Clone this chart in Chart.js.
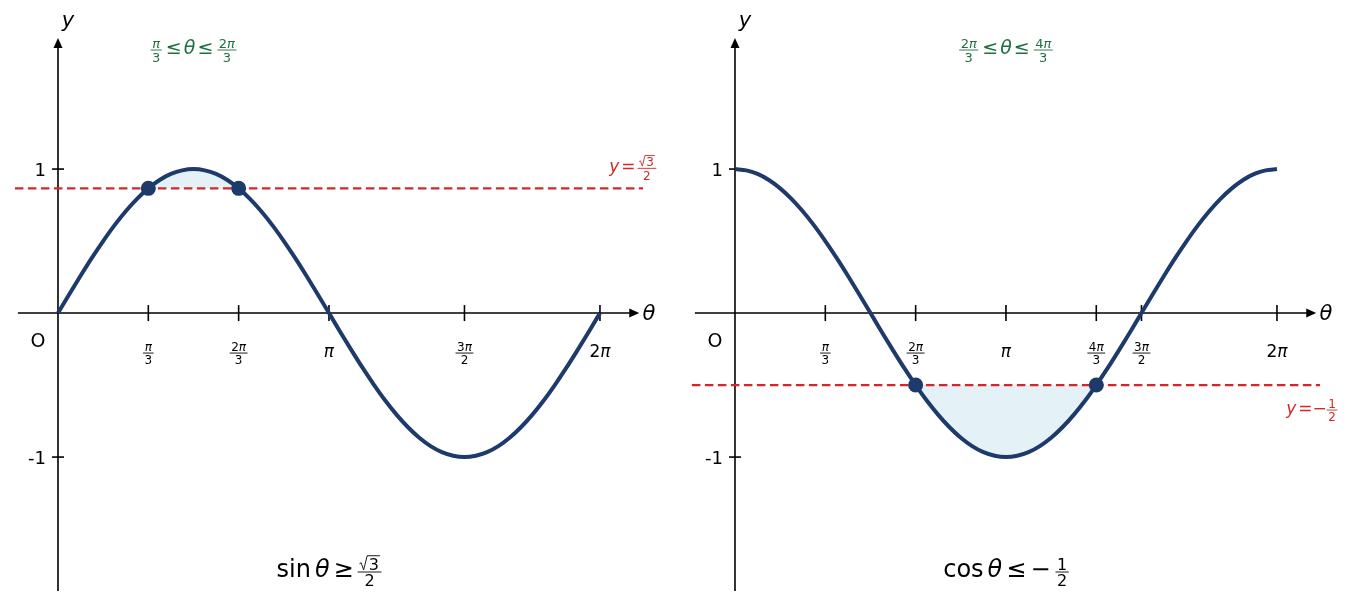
<!DOCTYPE html>
<html>
<head>
<meta charset="utf-8">
<title>sin / cos inequalities</title>
<script src="https://cdn.jsdelivr.net/npm/chart.js@4.4.0/dist/chart.umd.min.js"></script>
<style>
  html, body { margin: 0; padding: 0; background: #fff; overflow: hidden; }
  #wrap { position: relative; width: 1355px; height: 611px; }
  .panel { position: absolute; top: 0; width: 678px; height: 611px; }
</style>
</head>
<body>
<div id="wrap">
  <div class="panel" style="left:0"><canvas id="sinChart" width="678" height="611"></canvas></div>
  <div class="panel" style="left:677px"><canvas id="cosChart" width="678" height="611"></canvas></div>
</div>
<script>
// theta is stored in units of pi (steps of pi/24)
const thetaPi = [0, 1/24, 2/24, 3/24, 4/24, 5/24, 6/24, 7/24, 8/24, 9/24, 10/24, 11/24, 12/24,
  13/24, 14/24, 15/24, 16/24, 17/24, 18/24, 19/24, 20/24, 21/24, 22/24, 23/24, 1,
  25/24, 26/24, 27/24, 28/24, 29/24, 30/24, 31/24, 32/24, 33/24, 34/24, 35/24, 36/24,
  37/24, 38/24, 39/24, 40/24, 41/24, 42/24, 43/24, 44/24, 45/24, 46/24, 47/24, 2];
const sinValues = [0, 0.131, 0.259, 0.383, 0.5, 0.609, 0.707, 0.793, 0.866, 0.924, 0.966, 0.991, 1,
  0.991, 0.966, 0.924, 0.866, 0.793, 0.707, 0.609, 0.5, 0.383, 0.259, 0.131, 0,
  -0.131, -0.259, -0.383, -0.5, -0.609, -0.707, -0.793, -0.866, -0.924, -0.966, -0.991, -1,
  -0.991, -0.966, -0.924, -0.866, -0.793, -0.707, -0.609, -0.5, -0.383, -0.259, -0.131, 0];
const cosValues = [1, 0.991, 0.966, 0.924, 0.866, 0.793, 0.707, 0.609, 0.5, 0.383, 0.259, 0.131, 0,
  -0.131, -0.259, -0.383, -0.5, -0.609, -0.707, -0.793, -0.866, -0.924, -0.966, -0.991, -1,
  -0.991, -0.966, -0.924, -0.866, -0.793, -0.707, -0.609, -0.5, -0.383, -0.259, -0.131, 0,
  0.131, 0.259, 0.383, 0.5, 0.609, 0.707, 0.793, 0.866, 0.924, 0.966, 0.991, 1];

const sinLevel = 0.866;
const cosLevel = -0.5;
const sinCross = [1/3, 2/3];
const cosCross = [2/3, 4/3];
const sinShade = [8, 16];    // index range of thetaPi
const cosShade = [16, 32];
const sinTicks = [1/3, 2/3, 1, 3/2, 2];
const cosTicks = [1/3, 2/3, 1, 4/3, 3/2, 2];
const yTicks = [1, -1];
const yTickLabels = ['1', '-1'];

const NAVY = '#1d3a6b';
const RED = '#d62728';
const GREEN = '#1e7040';
const SHADE = '#e4f2f8';
const FONT = '"DejaVu Sans"';

// scale windows (pi units / y units)
const X_MIN = -0.214, X_MAX = 2.288;
const Y_MIN = -2.069, Y_MAX = 2.174;

// --- tiny math text helpers ---
const T = (t, size, it) => ({ t, size, it: !!it });
const G = w => ({ gap: w });
const F = (num, den, size) => ({ frac: [num, den], size });
const R = (t, size) => ({ sqrt: t, size });

function mathFont(size, italic) {
  return (italic ? 'italic ' : '') + size + 'px ' + FONT;
}

function itemWidth(ctx, it) {
  if (it.gap !== undefined) return it.gap;
  if (it.frac) return Math.max(rowWidth(ctx, it.frac[0]), rowWidth(ctx, it.frac[1])) + 3;
  if (it.sqrt) {
    ctx.font = mathFont(it.size, false);
    return 0.6 * it.size + ctx.measureText(it.sqrt).width + 1;
  }
  ctx.font = mathFont(it.size, it.it);
  return ctx.measureText(it.t).width;
}

function rowWidth(ctx, row) {
  return row.reduce((s, it) => s + itemWidth(ctx, it), 0);
}

// axis = vertical math axis (fraction bar height)
function drawRow(ctx, row, x, axis, color) {
  ctx.fillStyle = color;
  ctx.strokeStyle = color;
  ctx.textBaseline = 'alphabetic';
  ctx.textAlign = 'left';
  for (const it of row) {
    const w = itemWidth(ctx, it);
    if (it.frac) {
      const s = it.size;
      ctx.lineWidth = 0.9;
      ctx.beginPath();
      ctx.moveTo(x, axis);
      ctx.lineTo(x + w, axis);
      ctx.stroke();
      const nw = rowWidth(ctx, it.frac[0]);
      const dw = rowWidth(ctx, it.frac[1]);
      drawRow(ctx, it.frac[0], x + (w - nw) / 2, axis - 2.5 - 0.22 * s, color);
      drawRow(ctx, it.frac[1], x + (w - dw) / 2, axis + 2.5 + 0.73 * s - 0.22 * s, color);
    } else if (it.sqrt) {
      const s = it.size;
      const b = axis + 0.22 * s;
      ctx.font = mathFont(s, false);
      const tw = ctx.measureText(it.sqrt).width;
      ctx.lineWidth = 0.9;
      ctx.beginPath();
      ctx.moveTo(x + 0.02 * s, b - 0.36 * s);
      ctx.lineTo(x + 0.12 * s, b - 0.42 * s);
      ctx.lineTo(x + 0.28 * s, b + 0.02 * s);
      ctx.lineTo(x + 0.5 * s, b - 0.86 * s);
      ctx.lineTo(x + 0.6 * s + tw + 1, b - 0.86 * s);
      ctx.stroke();
      ctx.fillText(it.sqrt, x + 0.6 * s, b);
    } else if (it.t) {
      ctx.font = mathFont(it.size, it.it);
      ctx.fillText(it.t, x, axis + 0.22 * it.size);
    }
    x += w;
  }
}

function drawRowCentered(ctx, row, cx, axis, color) {
  drawRow(ctx, row, cx - rowWidth(ctx, row) / 2, axis, color);
}

// tick label rows
const piOver = (n, d, s) => F(n ? [T(n, s), T('π', s, true)] : [T('π', s, true)], [T(d, s)], s);
const sinTickLabels = [[piOver('', '3', 12)], [piOver('2', '3', 12)], [T('π', 17, true)], [piOver('3', '2', 12)], [T('2', 17), T('π', 17, true)]];
const cosTickLabels = [[piOver('', '3', 12)], [piOver('2', '3', 12)], [T('π', 17, true)], [piOver('4', '3', 12)], [piOver('3', '2', 12)], [T('2', 17), T('π', 17, true)]];

const panels = {
  sin: {
    values: sinValues, level: sinLevel, cross: sinCross, shade: sinShade,
    ticks: sinTicks, tickLabels: sinTickLabels,
    top: [piOver('', '3', 13), G(4), T('≤', 19), G(2), T('θ', 19, true), G(2), T('≤', 19), G(4), piOver('2', '3', 13)],
    topAt: 0.5,
    title: [T('sin', 24), G(4), T('θ', 24, true), G(4), T('≥', 24), G(4), F([R('3', 16)], [T('2', 16)], 16)],
    levelLabel: [T('y', 17, true), G(2), T('=', 17), G(2), F([R('3', 12)], [T('2', 12)], 12)]
  },
  cos: {
    values: cosValues, level: cosLevel, cross: cosCross, shade: cosShade,
    ticks: cosTicks, tickLabels: cosTickLabels,
    top: [piOver('2', '3', 13), G(4), T('≤', 19), G(2), T('θ', 19, true), G(2), T('≤', 19), G(4), piOver('4', '3', 13)],
    topAt: 1,
    title: [T('cos', 24), G(4), T('θ', 24, true), G(4), T('≤', 24), G(4), T('−', 24), G(5), F([T('1', 16)], [T('2', 16)], 16)],
    levelLabel: [T('y', 17, true), G(2), T('=', 17), T('−', 17), F([T('1', 12)], [T('2', 12)], 12)]
  }
};

// axes, arrows, ticks and all text
function decorPlugin(p) {
  return {
    id: 'decor',
    beforeDatasetsDraw(chart) {
      const ctx = chart.ctx;
      const xs = chart.scales.x, ys = chart.scales.y;
      const x0 = xs.getPixelForValue(0), y0 = ys.getPixelForValue(0);
      ctx.save();
      ctx.strokeStyle = '#000';
      ctx.fillStyle = '#000';
      ctx.lineWidth = 1.6;
      // theta axis
      const xTip = xs.getPixelForValue(2.145);
      ctx.beginPath();
      ctx.moveTo(xs.getPixelForValue(-0.148), y0);
      ctx.lineTo(xTip - 8, y0);
      ctx.stroke();
      ctx.beginPath();
      ctx.moveTo(xTip, y0);
      ctx.lineTo(xTip - 10, y0 - 4.5);
      ctx.lineTo(xTip - 10, y0 + 4.5);
      ctx.closePath();
      ctx.fill();
      // y axis
      const yTip = ys.getPixelForValue(1.91);
      ctx.beginPath();
      ctx.moveTo(x0, ys.getPixelForValue(-1.93));
      ctx.lineTo(x0, yTip + 8);
      ctx.stroke();
      ctx.beginPath();
      ctx.moveTo(x0, yTip);
      ctx.lineTo(x0 - 4.5, yTip + 10);
      ctx.lineTo(x0 + 4.5, yTip + 10);
      ctx.closePath();
      ctx.fill();
      // ticks
      ctx.lineWidth = 1.6;
      p.ticks.forEach(t => {
        const px = xs.getPixelForValue(t);
        ctx.beginPath();
        ctx.moveTo(px, y0 - 8);
        ctx.lineTo(px, y0 + 8);
        ctx.stroke();
      });
      yTicks.forEach(t => {
        const py = ys.getPixelForValue(t);
        ctx.beginPath();
        ctx.moveTo(x0 - 6, py);
        ctx.lineTo(x0 + 6, py);
        ctx.stroke();
      });
      ctx.restore();
    },
    afterDatasetsDraw(chart) {
      const ctx = chart.ctx;
      const xs = chart.scales.x, ys = chart.scales.y;
      const x0 = xs.getPixelForValue(0), y0 = ys.getPixelForValue(0);
      ctx.save();
      // axis names
      ctx.fillStyle = '#000';
      ctx.textBaseline = 'alphabetic';
      ctx.font = mathFont(21, true);
      ctx.textAlign = 'center';
      ctx.fillText('y', x0 + 10, 27);
      ctx.textAlign = 'left';
      ctx.fillText('θ', xs.getPixelForValue(2.157), y0 + 7);
      ctx.font = mathFont(19, false);
      ctx.textAlign = 'center';
      ctx.fillText('O', x0 - 20, y0 + 34);
      ctx.font = mathFont(18, false);
      ctx.textAlign = 'right';
      yTicks.forEach((t, i) => {
        ctx.fillText(yTickLabels[i], x0 - 12, ys.getPixelForValue(t) + 6.5);
      });
      // tick labels
      p.ticks.forEach((t, i) => {
        drawRowCentered(ctx, p.tickLabels[i], xs.getPixelForValue(t), y0 + 40, '#000');
      });
      // range label, title, level label
      drawRowCentered(ctx, p.top, xs.getPixelForValue(p.topAt), 50, GREEN);
      drawRowCentered(ctx, p.title, xs.getPixelForValue(1), 572, '#000');
      drawRow(ctx, p.levelLabel, xs.getPixelForValue(2.034), ys.getPixelForValue(p.level) + (p.level > 0 ? -20 : 25), RED);
      ctx.restore();
    }
  };
}

function makeChart(id, p) {
  const curve = thetaPi.map((x, i) => ({ x, y: p.values[i] }));
  const shade = curve.slice(p.shade[0], p.shade[1] + 1);
  const crossPts = p.cross.map(x => ({ x, y: p.level }));
  return new Chart(document.getElementById(id), {
    type: 'line',
    data: {
      datasets: [
        { data: crossPts, showLine: false, pointRadius: 7.5, pointBackgroundColor: NAVY, pointBorderWidth: 0, order: 0 },
        { data: curve, borderColor: NAVY, borderWidth: 4, pointRadius: 0, cubicInterpolationMode: 'monotone', fill: false, order: 1 },
        { data: [{ x: -0.159, y: p.level }, { x: 2.159, y: p.level }], borderColor: RED, borderWidth: 2.2, borderDash: [8.5, 4.5], pointRadius: 0, fill: false, order: 2 },
        { data: shade, borderWidth: 0, borderColor: 'rgba(0,0,0,0)', backgroundColor: SHADE, pointRadius: 0, cubicInterpolationMode: 'monotone', fill: { value: p.level }, order: 3 }
      ]
    },
    options: {
      responsive: false,
      animation: false,
      events: [],
      layout: { padding: 0, autoPadding: false },
      plugins: { legend: { display: false }, tooltip: { enabled: false } },
      scales: {
        x: { type: 'linear', display: false, min: X_MIN, max: X_MAX },
        y: { type: 'linear', display: false, min: Y_MIN, max: Y_MAX }
      }
    },
    plugins: [decorPlugin(p)]
  });
}

makeChart('sinChart', panels.sin);
makeChart('cosChart', panels.cos);
</script>
</body>
</html>
